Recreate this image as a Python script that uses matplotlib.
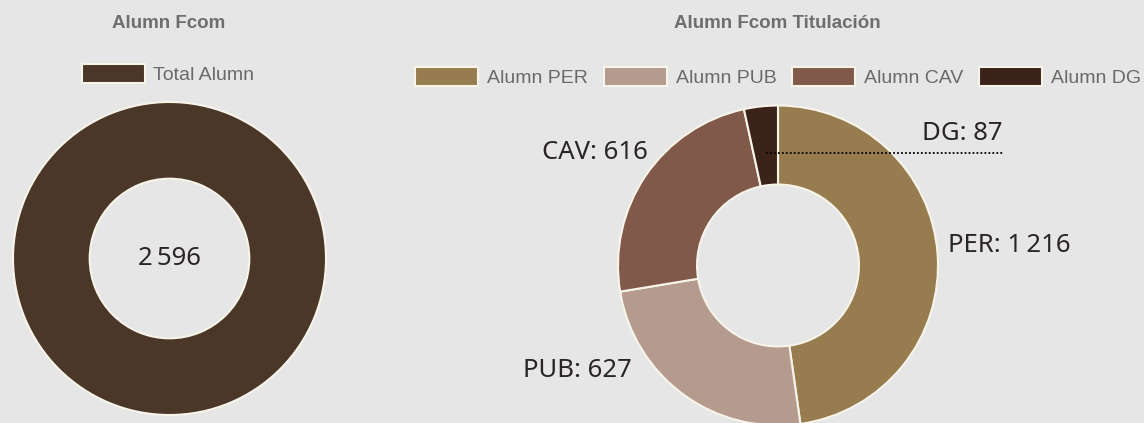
import numpy as np
import matplotlib
matplotlib.use('Agg')
import matplotlib.pyplot as plt

# data
total_label = 'Total Alumn'
total_value = 2596
titulos = ['PER', 'PUB', 'CAV', 'DG']
alumnos = [1216, 627, 616, 87]
leyenda = ['Alumn PER', 'Alumn PUB', 'Alumn CAV', 'Alumn DG']

W, H = 1144, 423
bg = '#e6e6e6'
col_total = '#4a3728'
cols = ['#967c4e', '#b59a8e', '#80594a', '#3c2319']
edge = '#f8f4ea'
lbl_col = '#2a2427'
gris = '#6e6e6e'

def fmt(v):
    s = f'{v:,}'.replace(',', '\u2009')
    return s

def box(cx, cy, r):
    # pixel box (top-left origin) -> figure fraction rect
    return [(cx - r) / W, 1 - (cy + r) / H, 2 * r / W, 2 * r / H]

fig = plt.figure(figsize=(W / 100, H / 100), dpi=100, facecolor=bg)
lbl_font = ['Noto Sans', 'DejaVu Sans']
ttl_font = ['Liberation Sans', 'DejaVu Sans']

# left donut
ax1 = fig.add_axes(box(169.5, 258.5, 156.5))
w1, _ = ax1.pie([total_value], colors=[col_total], startangle=90, counterclock=False,
                radius=1, wedgeprops=dict(width=0.49, edgecolor=edge, linewidth=1.5))
ax1.set_xlim(-1, 1)
ax1.set_ylim(-1, 1)
ax1.set_aspect('equal')
ax1.axis('off')
ax1.text(0, 0, fmt(total_value), ha='center', va='center', fontsize=18.5,
         color=lbl_col, family=lbl_font)

# right donut
ax2 = fig.add_axes(box(778, 265.5, 160))
w2, _ = ax2.pie(alumnos, colors=cols, startangle=90, counterclock=False,
                radius=1, wedgeprops=dict(width=0.494, edgecolor=edge, linewidth=1.5))
ax2.set_xlim(-1, 1)
ax2.set_ylim(-1, 1)
ax2.set_aspect('equal')
ax2.axis('off')
for w in w2:
    w.set_clip_on(False)

# labels (pixel positions)
pos = {'PER': (948, 245, 'left'), 'PUB': (523, 370, 'left'),
       'CAV': (648, 152, 'right'), 'DG': (1002, 133, 'right')}
for t, v in zip(titulos, alumnos):
    x, y, ha = pos[t]
    fig.text(x / W, 1 - y / H, f'{t}: {fmt(v)}', ha=ha, va='center',
             fontsize=18.5, color=lbl_col, family=lbl_font)

# dotted connector for the small DG slice
dg = w2[-1]
ang = np.deg2rad((dg.theta1 + dg.theta2) / 2)
r0 = 0.71
x0, y0 = r0 * np.cos(ang), r0 * np.sin(ang)
x1 = (1003 - 778) / 160
ax2.plot([x0, x1], [y0, y0], color='black', lw=1.3, ls=(0, (1, 1.2)), clip_on=False)

# titles
fig.text(169 / W, 1 - 23 / H, 'Alumn Fcom', ha='center', va='center', fontsize=13.5,
         fontweight='bold', color=gris, family=ttl_font)
fig.text(777 / W, 1 - 23 / H, 'Alumn Fcom Titulación', ha='center', va='center',
         fontsize=13.5, fontweight='bold', color=gris, family=ttl_font)

# legends
leg_kw = dict(frameon=False, handlelength=3.25, handleheight=1.15,
              handletextpad=0.45, columnspacing=0.8, borderpad=0, borderaxespad=0,
              labelcolor='#6a6a6a', prop={'family': ttl_font, 'size': 14})
fig.legend([w1[0]], [total_label], loc='center', ncol=1,
           bbox_to_anchor=(168 / W, 1 - 74 / H), **leg_kw)
fig.legend(w2, leyenda, loc='center', ncol=4,
           bbox_to_anchor=(778 / W, 1 - 77 / H), **leg_kw)

fig.savefig('out.png', dpi=100, facecolor=bg)
